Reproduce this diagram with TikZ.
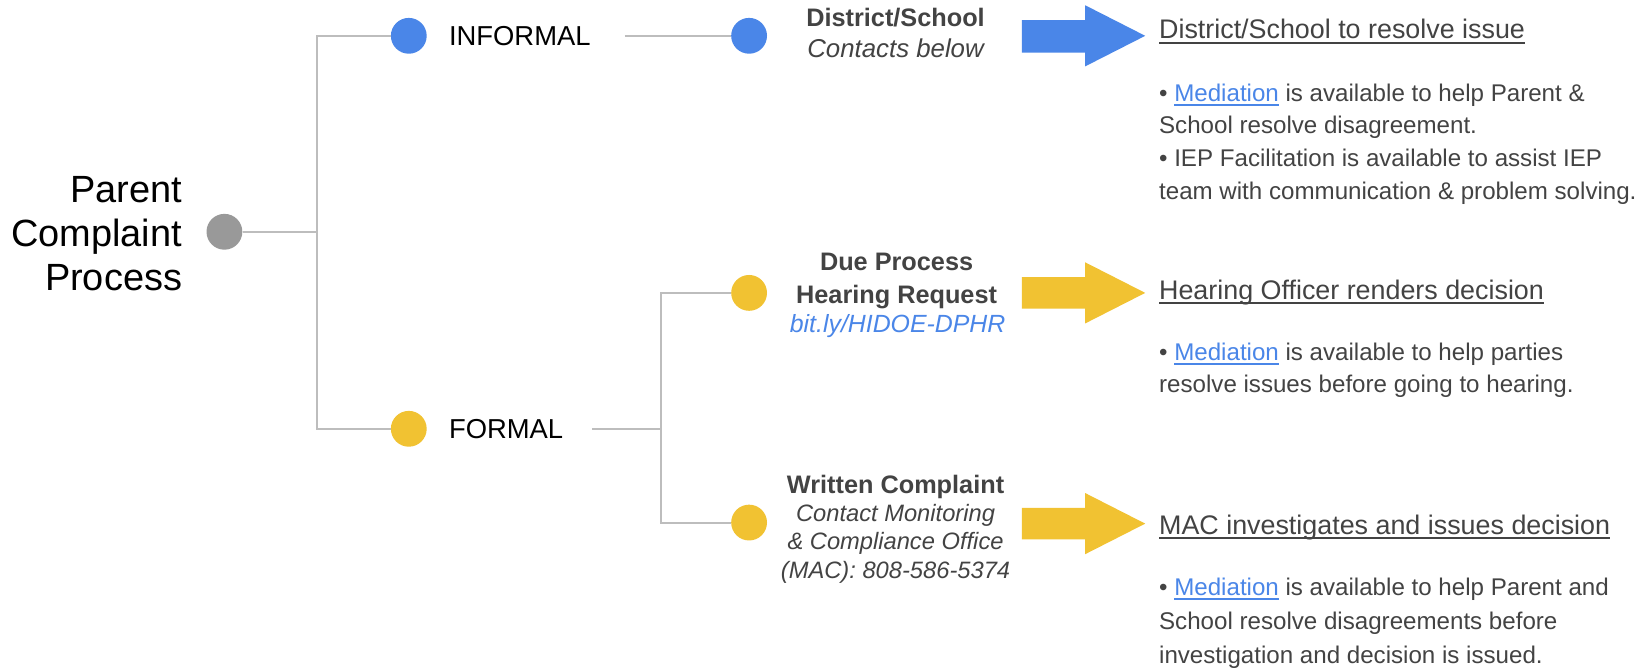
\documentclass[tikz,border=0pt]{standalone}
\usepackage{fontspec}
\setmainfont{Liberation Sans}
\newlength\ulw
\newcommand{\myul}[1]{\settowidth{\ulw}{#1}\rlap{\rule[-4.5pt]{\ulw}{1.6pt}}#1}
\definecolor{gblue}{HTML}{4A86E8}
\definecolor{gyellow}{HTML}{F1C232}
\definecolor{ggray}{HTML}{999999}
\definecolor{lgray}{HTML}{BDBDBD}
\definecolor{dtext}{HTML}{434343}
\newcommand{\med}{{\color{gblue}\myul{Mediation}}}
\begin{document}
\begin{tikzpicture}[x=1pt,y=-1pt,
  dot/.style={circle,inner sep=0pt,minimum size=34pt},
  conn/.style={draw=lgray,line width=2pt},
  lbl/.style={inner sep=0pt,font=\fontsize{26}{30}\selectfont,text=black},
  ttl/.style={inner sep=0pt,font=\fontsize{24}{31}\selectfont\bfseries,text=dtext,align=center},
  sub/.style={inner sep=0pt,font=\fontsize{22.5}{27}\selectfont\itshape,text=dtext,align=center},
  head/.style={inner sep=0pt,font=\fontsize{25.5}{30}\selectfont,text=dtext},
  body/.style={inner sep=0pt,font=\fontsize{22.9}{31}\selectfont,text=dtext,align=left}]
\useasboundingbox[fill=white] (0,0) rectangle (1568,633.1);

% root
\node[inner sep=0pt,font=\fontsize{36}{42}\selectfont,align=right,anchor=base east] (title) at (173,276) {Parent\\Complaint\\Process};
\node[dot,fill=ggray] (root) at (213,220) {};
\node[dot,fill=gblue] (inf) at (388,34) {};
\node[dot,fill=gyellow] (frm) at (388,407) {};
\node[lbl,anchor=base west] (inflbl) at (426,43) {INFORMAL};
\node[lbl,anchor=base west] (frmlbl) at (426,416) {FORMAL};

\node[dot,fill=gblue] (ds) at (711,34) {};
\node[dot,fill=gyellow] (dp) at (711,278) {};
\node[dot,fill=gyellow] (wc) at (711,496) {};

\coordinate (j1) at (301,220);
\coordinate (j2) at (627,407);
\coordinate (a1) at (593,34);
\coordinate (a2) at (562,407);

\draw[conn] (root.east) -- (j1);
\draw[conn] (inf.west) -| (j1) |- (frm.west);
\draw[conn] (a1) -- (ds.west);
\draw[conn] (a2) -- (j2);
\draw[conn] (dp.west) -| (j2) |- (wc.west);

% middle texts
\node[ttl,anchor=base] (dst) at (850,25) {District/School};
\node[sub,anchor=base,font=\fontsize{24.5}{29}\selectfont\itshape] (dss) at (850,55) {Contacts below};
\node[ttl,anchor=base] (dpt) at (851,288) {Due Process\\Hearing Request};
\node[sub,anchor=base,text=gblue,font=\fontsize{23.6}{28}\selectfont\itshape] (dps) at (852,316) {bit.ly/HIDOE-DPHR};
\node[ttl,anchor=base] (wct) at (850,468) {Written Complaint};
\node[sub,anchor=base] (wcs) at (850,549) {Contact Monitoring\\\& Compliance Office\\(MAC): 808-586-5374};

% arrows
\fill[gblue] (970,19) -- (1030,19) -- (1030,5) -- (1087,34) -- (1030,63) -- (1030,50) -- (970,50) -- cycle;
\fill[gyellow] (970,263) -- (1030,263) -- (1030,249) -- (1087,278) -- (1030,307) -- (1030,293) -- (970,293) -- cycle;
\fill[gyellow] (970,482) -- (1030,482) -- (1030,468) -- (1087,497) -- (1030,526) -- (1030,512) -- (970,512) -- cycle;

% right texts
\node[head,anchor=base west] (h1) at (1100,37) {\myul{District/School to resolve issue}};
\node[body,anchor=base west] (b1) at (1100,189) {• \med{} is available to help Parent \&\\School resolve disagreement.\\• IEP Facilitation is available to assist IEP\\team with communication \& problem solving.};
\node[head,anchor=base west] (h2) at (1100,284) {\myul{Hearing Officer renders decision}};
\node[body,anchor=base west] (b2) at (1100,373) {• \med{} is available to help parties\\resolve issues before going to hearing.};
\node[head,anchor=base west] (h3) at (1100,507) {\myul{MAC investigates and issues decision}};
\node[body,anchor=base west,font=\fontsize{22.9}{32.5}\selectfont] (b3) at (1100,630) {• \med{} is available to help Parent and\\School resolve disagreements before\\investigation and decision is issued.};
\end{tikzpicture}
\end{document}
